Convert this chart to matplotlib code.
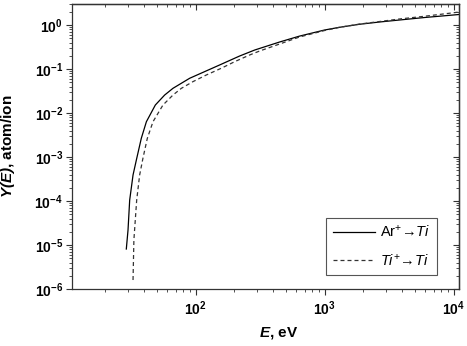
import numpy as np
import matplotlib
matplotlib.use('Agg')
import matplotlib.pyplot as plt
from matplotlib.ticker import LogLocator, FuncFormatter, NullFormatter

# ---- data ----
E_ar = [29.0, 29.9, 30.8, 32.7, 34.7, 37.9, 41.5, 48.7, 57.5, 66.7, 89.8,
        117, 153, 219, 287, 448, 640, 1000, 1306, 1868, 2667, 3814, 5957,
        10000, 10940]
Y_ar = [8.1e-6, 2.19e-5, 1.05e-4, 3.9e-4, 8.55e-4, 2.66e-3, 6.34e-3, 0.0152,
        0.0256, 0.0364, 0.0615, 0.0868, 0.123, 0.197, 0.270, 0.411, 0.560,
        0.770, 0.887, 1.04, 1.17, 1.30, 1.48, 1.69, 1.73]

E_ti = [32.7, 33.2, 34.9, 36.8, 39.0, 42.2, 46.7, 55.8, 66.7, 77.5, 95.2,
        121, 158, 201, 262, 314, 448, 640, 1000, 1306, 1868, 2667, 3814,
        5957, 10000, 10940]
Y_ti = [1.60e-6, 1.30e-5, 1.05e-4, 3.9e-4, 9.3e-4, 2.66e-3, 6.34e-3, 0.0152,
        0.0256, 0.0364, 0.0515, 0.0731, 0.104, 0.147, 0.208, 0.257, 0.370,
        0.535, 0.750, 0.887, 1.05, 1.20, 1.37, 1.58, 1.90, 1.97]

labels = [r'Ar$^{+}$→$\mathit{Ti}$',
          r'$\mathit{Ti}^{+}$→$\mathit{Ti}$']

xlim = (11, 11000)
ylim = (1e-6, 3.0)

plt.rcParams['font.family'] = ['Liberation Sans', 'DejaVu Sans']
plt.rcParams['mathtext.fontset'] = 'custom'
plt.rcParams['mathtext.rm'] = 'Liberation Sans'
plt.rcParams['mathtext.it'] = 'Liberation Sans:italic'
plt.rcParams['mathtext.bf'] = 'Liberation Sans:bold'
plt.rcParams['mathtext.bfit'] = 'Liberation Sans:bold:italic'
plt.rcParams['axes.unicode_minus'] = False

fig = plt.figure(figsize=(4.67, 3.46), dpi=100)
ax = fig.add_axes([72/467, 1-289/346, 387/467, 285/346])

ax.plot(E_ar, Y_ar, color='black', lw=0.9, label=labels[0])
ax.plot(E_ti, Y_ti, color='#333333', lw=0.9, linestyle=(0, (3.2, 2.4)), label=labels[1])

ax.set_xscale('log')
ax.set_yscale('log')
ax.set_xlim(*xlim)
ax.set_ylim(*ylim)

fmt = FuncFormatter(lambda v, p: r'$\mathbf{10^{%d}}$' % int(round(np.log10(v))))
for axis in (ax.xaxis, ax.yaxis):
    axis.set_major_locator(LogLocator(base=10, numticks=20))
    axis.set_minor_locator(LogLocator(base=10, subs=np.arange(2, 10), numticks=20))
    axis.set_major_formatter(fmt)
    axis.set_minor_formatter(NullFormatter())

ax.tick_params(which='major', direction='out', length=4, width=0.8, labelsize=10, pad=2.5, color='#333333')
ax.tick_params(which='minor', direction='out', length=2.2, width=0.6, color='#333333')
ax.tick_params(axis='x', which='major', pad=3.5)

for sp in ax.spines.values():
    sp.set_linewidth(0.9)
    sp.set_color('#333333')

secx = ax.secondary_xaxis('top')
secx.xaxis.set_major_locator(LogLocator(base=10, numticks=20))
secx.xaxis.set_minor_locator(LogLocator(base=10, subs=np.arange(2, 10), numticks=20))
secx.tick_params(which='major', direction='in', length=4, width=0.8, labeltop=False, color='#333333')
secx.tick_params(which='minor', direction='in', length=2.2, width=0.6, color='#333333')
secx.xaxis.set_minor_formatter(NullFormatter())
secx.spines['top'].set_linewidth(0.9)

secy = ax.secondary_yaxis('right')
secy.yaxis.set_major_locator(LogLocator(base=10, numticks=20))
secy.yaxis.set_minor_locator(LogLocator(base=10, subs=np.arange(2, 10), numticks=20))
secy.tick_params(which='major', direction='in', length=4, width=0.8, labelright=False, color='#333333')
secy.tick_params(which='minor', direction='in', length=2.2, width=0.6, color='#333333')
secy.yaxis.set_minor_formatter(NullFormatter())
secy.spines['right'].set_linewidth(0.9)

ax.set_xlabel(r'$\mathbfit{E}$, eV', fontsize=11, fontweight='bold')
ax.set_ylabel(r'$\mathbfit{Y(E)}$, atom/ion', fontsize=11, fontweight='bold')
ax.xaxis.set_label_coords(0.535, -0.128)
ax.yaxis.set_label_coords(-0.142, 0.5)

leg = ax.legend(loc='lower right', bbox_to_anchor=(0.943, 0.049), fontsize=10.5,
                frameon=True, fancybox=False, framealpha=1, edgecolor='#555555',
                handlelength=2.9, labelspacing=0.85, borderpad=0.45, handletextpad=0.35,
                borderaxespad=0)
leg.get_frame().set_linewidth(0.8)

fig.savefig('out.png', dpi=100)
